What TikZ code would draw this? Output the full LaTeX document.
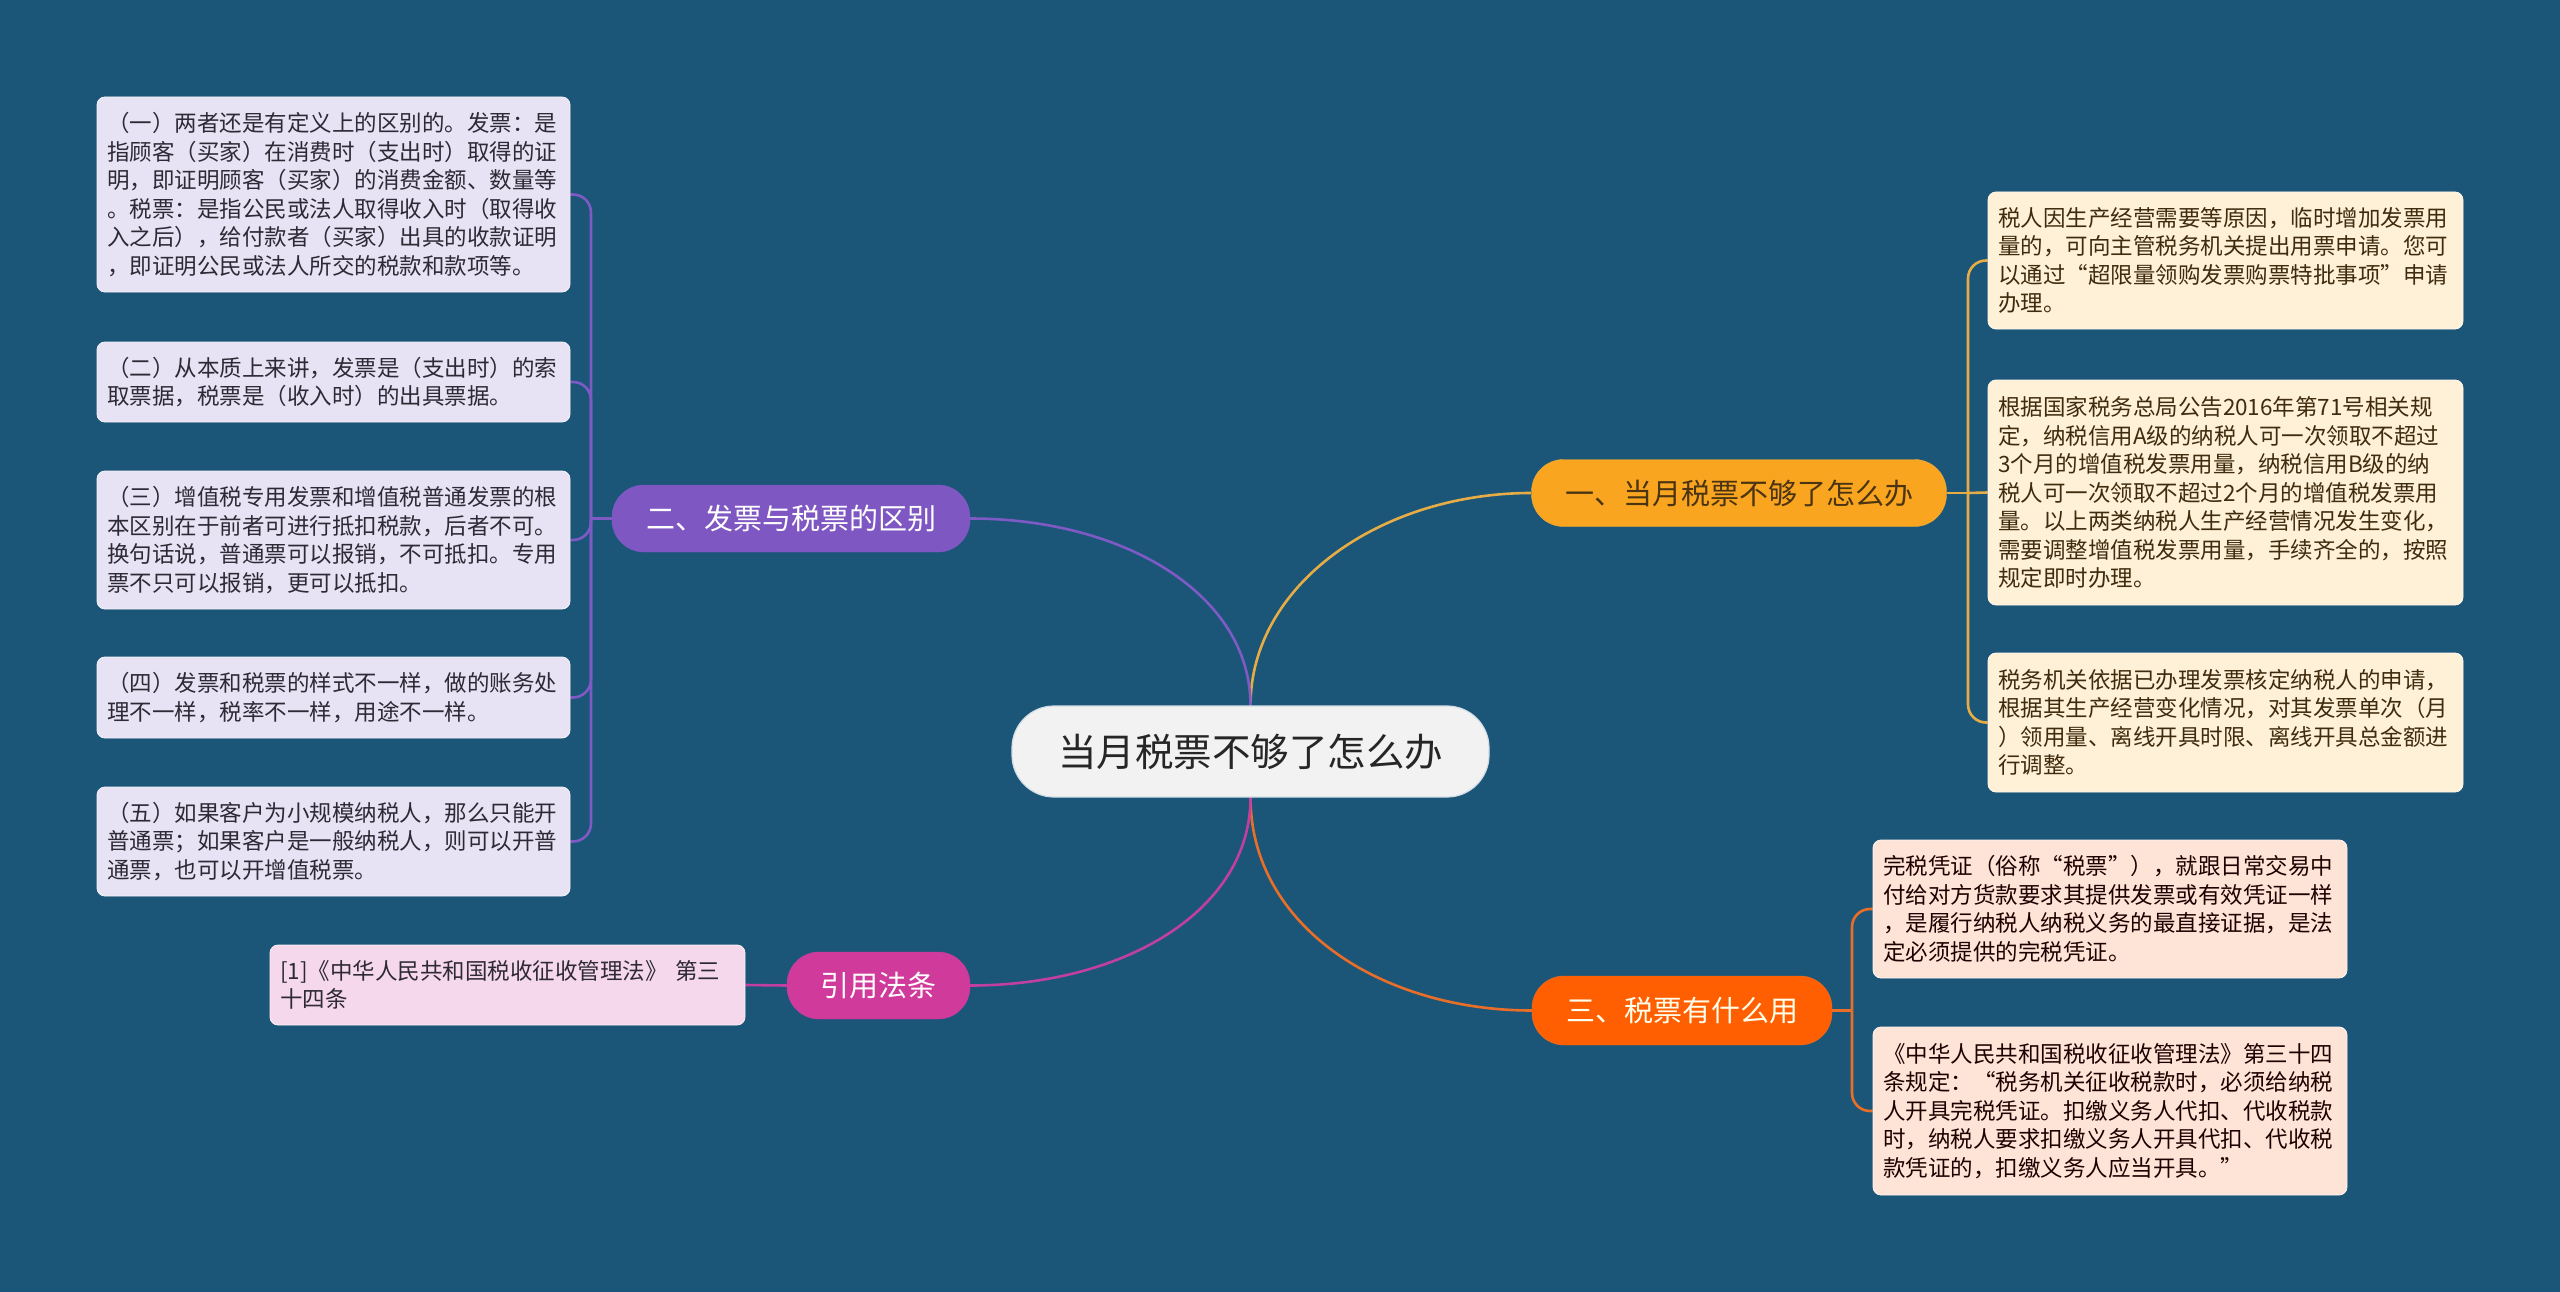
\documentclass[tikz,border=0pt]{standalone}
\usepackage{fontspec}
\setmainfont{Noto Sans CJK SC}
\usetikzlibrary{backgrounds}
\definecolor{bg}{HTML}{1B5578}
\definecolor{cOne}{HTML}{FAA51F}
\definecolor{cOneLine}{HTML}{E6AC45}
\definecolor{cOneLeaf}{HTML}{FFF1D8}
\definecolor{cOneText}{HTML}{4A3412}
\definecolor{cTwo}{HTML}{7E57C2}
\definecolor{cTwoLine}{HTML}{7E5BC4}
\definecolor{cTwoLeaf}{HTML}{E7E2F4}
\definecolor{cThree}{HTML}{FF5F00}
\definecolor{cThreeLine}{HTML}{E96E28}
\definecolor{cThreeLeaf}{HTML}{FDE4D7}
\definecolor{cFour}{HTML}{CF3A9B}
\definecolor{cFourLine}{HTML}{C23FA2}
\definecolor{cFourLeaf}{HTML}{F6D8EC}
\definecolor{centerfill}{HTML}{F2F2F2}
\definecolor{leaftext}{HTML}{2E2A35}
\begin{document}
\begin{tikzpicture}[x=1pt,y=-1pt,
  rootbox/.style={draw=white!80!bg, line width=1.2pt, fill=centerfill, rounded corners=42pt,
    minimum width=477pt, minimum height=91pt, inner sep=0pt,
    font=\fontsize{38.5}{44}\selectfont, text=black!85},
  topicbox/.style={rounded corners=32pt, minimum height=67pt, inner sep=0pt,
    font=\fontsize{29}{34}\selectfont},
  leafbox/.style={rounded corners=8pt, inner xsep=10pt, inner ysep=0pt, align=left,
    font=\fontsize{22.5}{28.5}\selectfont, text=leaftext, line width=0.8pt},
  link/.style={line width=2.6pt}
]
\useasboundingbox (0,0) rectangle (2560,1292);

% root
\node[rootbox] (root) at (1250.5,751.5) {当月税票不够了怎么办};

% topics
\node[topicbox, fill=cOne, draw=cOneLine, text=cOneText, minimum width=415pt] (t1) at (1739,493) {一、当月税票不够了怎么办};
\node[topicbox, fill=cTwo, draw=cTwoLine, text=white, minimum width=358pt] (t2) at (791,518.5) {二、发票与税票的区别};
\node[topicbox, fill=cThree, draw=cThreeLine, text=white!92!yellow, minimum width=300pt, minimum height=69pt] (t3) at (1682,1010.5) {三、税票有什么用};
\node[topicbox, fill=cFour, draw=cFourLine, text=white, minimum width=183pt] (t4) at (878.5,985.5) {引用法条};

% left leaves (topic 2)
\begin{scope}[every node/.append style={leafbox, fill=cTwoLeaf, draw=white!60!cTwoLeaf, text width=453pt}]
\node[minimum height=195pt] (l1) at (333.5,194.5) {（一）两者还是有定义上的区别的。发票：是\\指顾客（买家）在消费时（支出时）取得的证\\明，即证明顾客（买家）的消费金额、数量等\\。税票：是指公民或法人取得收入时（取得收\\入之后），给付款者（买家）出具的收款证明\\，即证明公民或法人所交的税款和款项等。};
\node[minimum height=80pt] (l2) at (333.5,382) {（二）从本质上来讲，发票是（支出时）的索\\取票据，税票是（收入时）的出具票据。};
\node[minimum height=138pt] (l3) at (333.5,540) {（三）增值税专用发票和增值税普通发票的根\\本区别在于前者可进行抵扣税款，后者不可。\\换句话说，普通票可以报销，不可抵扣。专用\\票不只可以报销，更可以抵扣。};
\node[minimum height=81pt] (l4) at (333.5,697.5) {（四）发票和税票的样式不一样，做的账务处\\理不一样，税率不一样，用途不一样。};
\node[minimum height=109pt] (l5) at (333.5,841.5) {（五）如果客户为小规模纳税人，那么只能开\\普通票；如果客户是一般纳税人，则可以开普\\通票，也可以开增值税票。};
\end{scope}

% citation leaf (topic 4)
\node[leafbox, fill=cFourLeaf, draw=white!60!cFourLeaf, text width=455pt, minimum height=80pt] (c1) at (507.5,985) {[1]《中华人民共和国税收征收管理法》 第三\\十四条};

% right leaves (topic 1)
\begin{scope}[every node/.append style={leafbox, fill=cOneLeaf, draw=white!60!cOneLeaf, text width=455pt, text=cOneText!85!black}]
\node[minimum height=137pt] (r1) at (2225.5,260.5) {税人因生产经营需要等原因，临时增加发票用\\量的，可向主管税务机关提出用票申请。您可\\以通过“超限量领购发票购票特批事项”申请\\办理。};
\node[minimum height=225pt] (r2) at (2225.5,492.5) {根据国家税务总局公告2016年第71号相关规\\定，纳税信用A级的纳税人可一次领取不超过\\3个月的增值税发票用量，纳税信用B级的纳\\税人可一次领取不超过2个月的增值税发票用\\量。以上两类纳税人生产经营情况发生变化，\\需要调整增值税发票用量，手续齐全的，按照\\规定即时办理。};
\node[minimum height=139pt] (r3) at (2225.5,722.5) {税务机关依据已办理发票核定纳税人的申请，\\根据其生产经营变化情况，对其发票单次（月\\）领用量、离线开具时限、离线开具总金额进\\行调整。};
\end{scope}

% right leaves (topic 3)
\begin{scope}[every node/.append style={leafbox, fill=cThreeLeaf, draw=white!60!cThreeLeaf, text width=454pt, text=black!80!red!60!black}]
\node[minimum height=138pt] (r4) at (2110,909) {完税凭证（俗称“税票”），就跟日常交易中\\付给对方货款要求其提供发票或有效凭证一样\\，是履行纳税人纳税义务的最直接证据，是法\\定必须提供的完税凭证。};
\node[minimum height=168pt] (r5) at (2110,1111) {《中华人民共和国税收征收管理法》第三十四\\条规定：“税务机关征收税款时，必须给纳税\\人开具完税凭证。扣缴义务人代扣、代收税款\\时，纳税人要求扣缴义务人开具代扣、代收税\\款凭证的，扣缴义务人应当开具。”};
\end{scope}

\coordinate (s1) at (1968,493);
\coordinate (s2) at (591,518.5);
\coordinate (s3) at (1852,1010.5);

\begin{scope}[on background layer]
\fill[bg] (0,0) rectangle (2560,1292);

% root -> topics
\draw[link, cOneLine] (root.north) .. controls (1250.5,585) and (1380,493) .. (t1.west);
\draw[link, cTwoLine] (root.north) .. controls (1250.5,595) and (1125,518.5) .. (t2.east);
\draw[link, cThreeLine] (root.south) .. controls (1250.5,925) and (1380,1010.5) .. (t3.west);
\draw[link, cFourLine] (root.south) .. controls (1250.5,910) and (1125,985.5) .. (t4.east);

% topic 1 -> leaves
\draw[link, cOneLine] (t1.east) -- (s1);
\draw[link, cOneLine, rounded corners=18pt] (s1) |- (r1.west);
\draw[link, cOneLine] (s1) -- (r2.west);
\draw[link, cOneLine, rounded corners=18pt] (s1) |- (r3.west);

% topic 2 -> leaves
\draw[link, cTwoLine] (t2.west) -- (s2);
\draw[link, cTwoLine, rounded corners=18pt] (s2) |- (l1.east);
\draw[link, cTwoLine, rounded corners=18pt] (s2) |- (l2.east);
\draw[link, cTwoLine, rounded corners=18pt] (s2) |- (l3.east);
\draw[link, cTwoLine, rounded corners=18pt] (s2) |- (l4.east);
\draw[link, cTwoLine, rounded corners=18pt] (s2) |- (l5.east);

% topic 3 -> leaves
\draw[link, cThreeLine] (t3.east) -- (s3);
\draw[link, cThreeLine, rounded corners=18pt] (s3) |- (r4.west);
\draw[link, cThreeLine, rounded corners=18pt] (s3) |- (r5.west);

% topic 4 -> citation
\draw[link, cFourLine] (t4.west) -- (c1.east);
\end{scope}
\end{tikzpicture}
\end{document}
